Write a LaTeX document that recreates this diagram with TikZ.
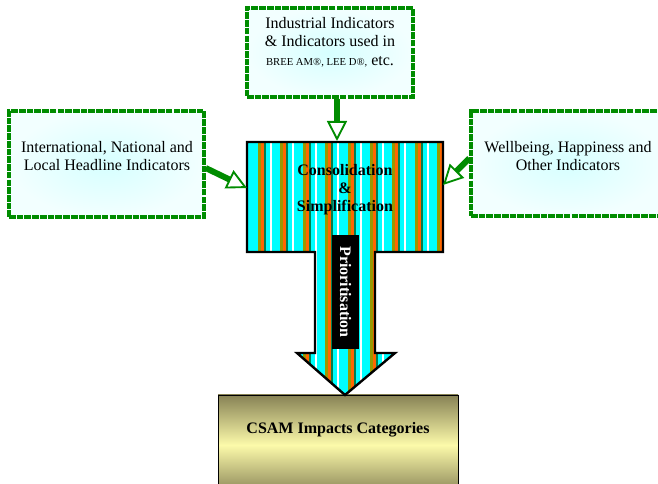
\documentclass[tikz,border=0pt]{standalone}
\usepackage{fontspec}
\setmainfont{Liberation Serif}
\usetikzlibrary{arrows.meta,shadings}
\definecolor{boxgreen}{RGB}{0,140,0}
\definecolor{arrowgreen}{RGB}{0,140,0}
\definecolor{stripecyan}{RGB}{0,255,255}
\definecolor{stripeolive}{RGB}{153,153,0}
\definecolor{stripeorange}{RGB}{255,102,0}
\definecolor{stripegreen}{RGB}{0,128,80}
\definecolor{baseolive}{RGB}{135,130,85}
\definecolor{baseyellow}{RGB}{252,250,170}
\newcommand\arrowoutline{(247,142) -- (443,142) -- (443,252) -- (375,252) -- (375,353) -- (395,353) -- (345,395) -- (297,353) -- (315,353) -- (315,252) -- (247,252) -- cycle}
\tikzset{
x=0.75pt, y=-0.75pt,
source/.style={draw=boxgreen, line width=2.5pt, dash pattern=on 5pt off 0.8pt,
  inner color=cyan!16, outer color=cyan!5, inner sep=0pt},
plain/.style={font=\fontsize{12}{14}\selectfont, align=center},
heavy/.style={font=\fontsize{12}{13.5}\selectfont\bfseries, align=center},
feed/.style={draw=arrowgreen, line width=4.5pt,
  -{Triangle[open, length=15pt, width=15pt, line width=1.4pt]}},
}
\tikzstyle{target} = [draw=black, line width=0.6pt, top color=baseolive,
  bottom color=baseolive, middle color=baseyellow, inner sep=0pt,
  minimum width=180pt, minimum height=75pt]

\begin{document}
\begin{tikzpicture}
\useasboundingbox (0,0) rectangle (658,484);
\node[source, minimum width=124.5pt, minimum height=66.75pt] (industry) at (330,52.5) {};
\node[plain] (industryText) at (330,42) {Industrial Indicators\\
  \& Indicators used in\\
  {\fontsize{8}{10}\selectfont BREE AM®, LEE D®,} etc.};
\node[source, minimum width=146.25pt, minimum height=79.5pt] (headline) at (106.5,164) {};
\node[plain] (headlineText) at (107,156) {International, National and\\Local Headline Indicators};
\node[source, minimum width=146.25pt, minimum height=78.75pt] (wellbeing) at (568.5,163.5) {};
\node[plain] (wellbeingText) at (568,156) {Wellbeing, Happiness and\\Other Indicators};
\node[target] (csam) at (338,445) {};
\node[heavy] (csamText) at (338,430) {CSAM Impacts Categories};
\begin{scope}
\clip \arrowoutline;
\fill[stripecyan] (240,135) rectangle (450,400);
\foreach \s in {0,...,8} {
  \fill[stripeolive] ({258+22.4*\s},135) rectangle +(3,265);
  \fill[stripeorange] ({261+22.4*\s},135) rectangle +(3,265);
  \fill[stripegreen] ({264+22.4*\s},135) rectangle +(2,265);
  \fill[white] ({270+22.4*\s},135) rectangle +(2,265);
}
\end{scope}
\draw[line width=1.8pt, line join=miter] \arrowoutline;
\coordinate (topTip) at (337,141);
\coordinate (leftTip) at (247,188);
\coordinate (rightTip) at (443,185);
\node[heavy] (consolidation) at (345,190) {Consolidation\\\&\\Simplification};
\node[heavy, fill=black, text=white, rotate=-90, inner sep=0pt,
  minimum width=85.5pt, minimum height=20pt] (priority) at (345.5,292) {Prioritisation};
\draw[feed] (industry.south -| topTip) -- (topTip);
\draw[feed] ([yshift=-3pt]headline.east) -- (leftTip);
\draw[feed] ([yshift=4pt]wellbeing.west) -- (rightTip);
\end{tikzpicture}
\end{document}
